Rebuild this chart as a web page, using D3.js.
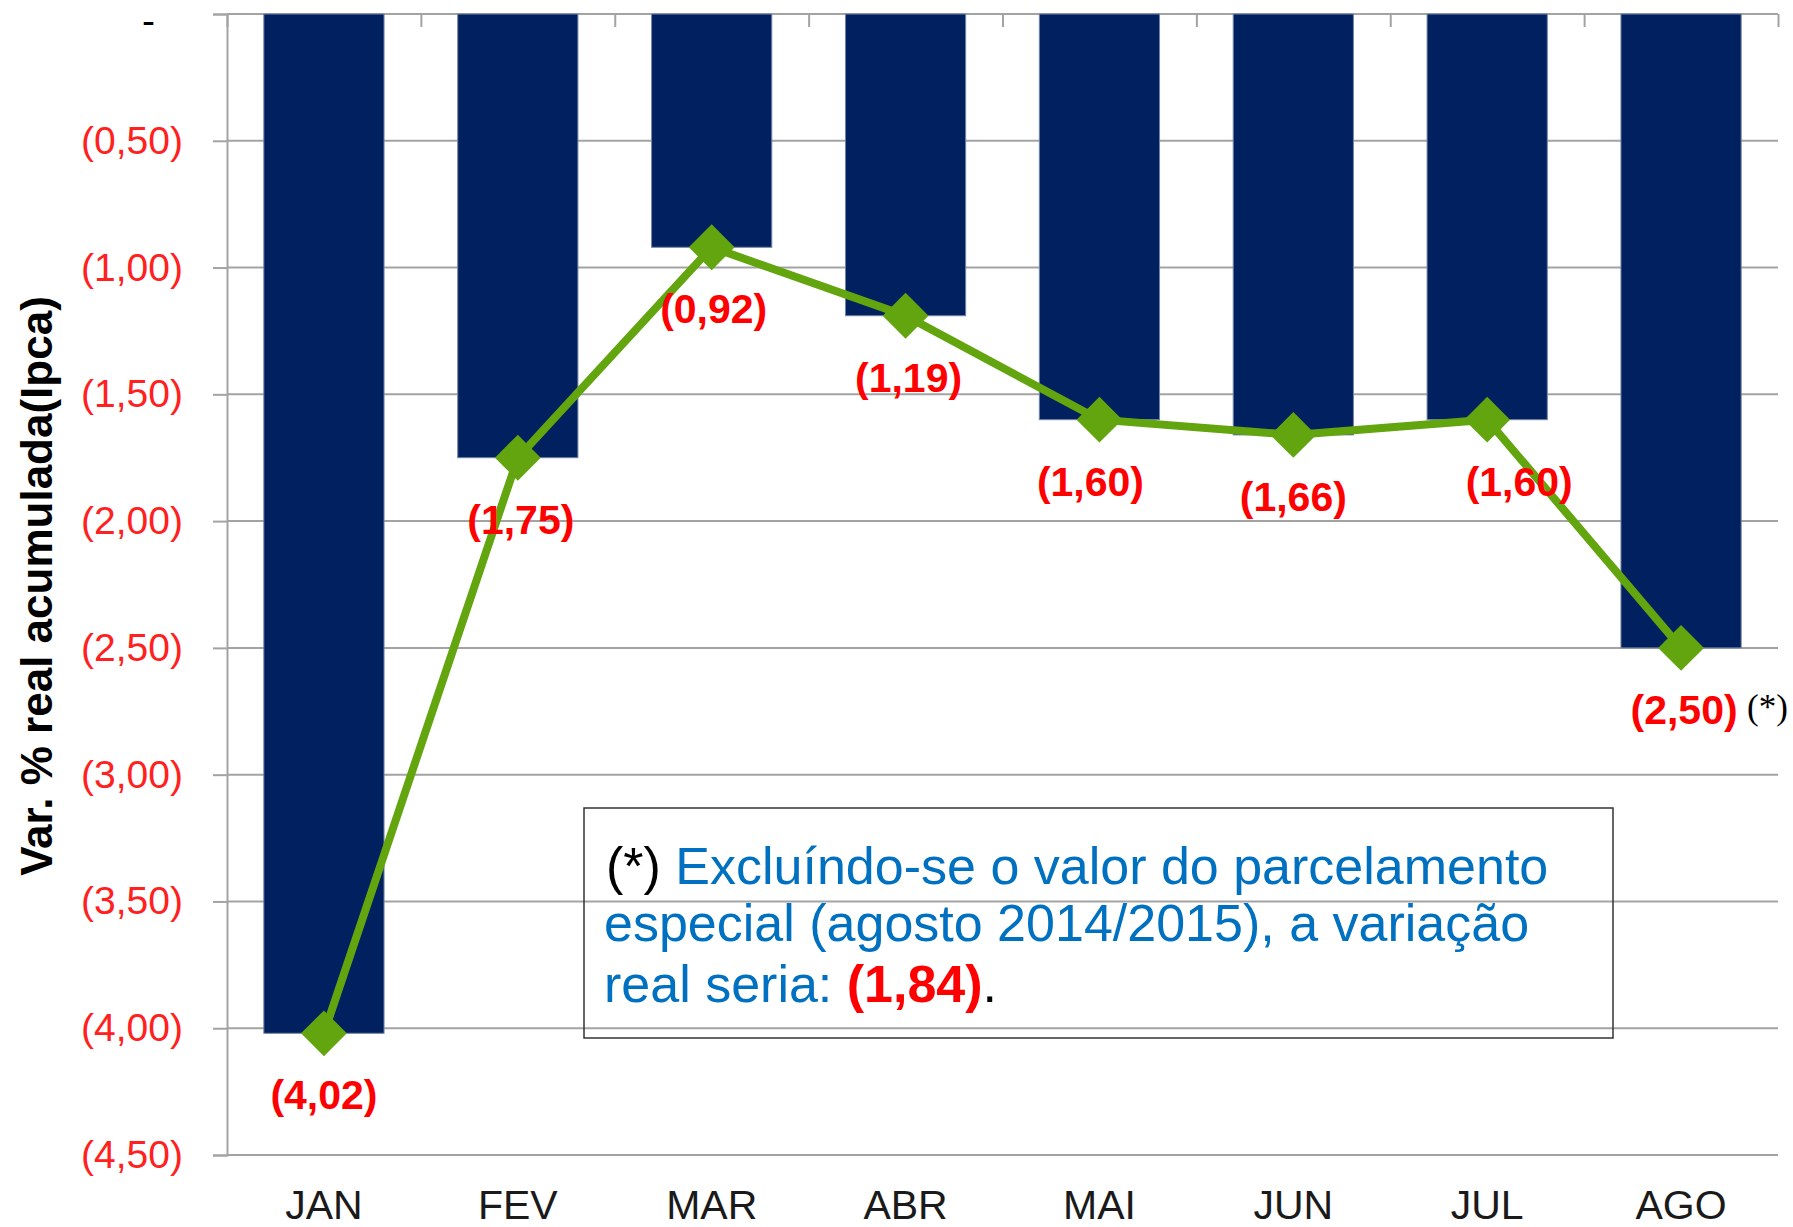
<!DOCTYPE html>
<html>
<head>
<meta charset="utf-8">
<script src="https://cdn.jsdelivr.net/npm/d3@7"></script>
<style>
  body { margin: 0; background: #fff; }
  text { font-family: "Liberation Sans", Arial, sans-serif; }
</style>
</head>
<body>
<script>
// months and accumulated real variation (shown as negative values in parentheses)
var months = ["JAN", "FEV", "MAR", "ABR", "MAI", "JUN", "JUL", "AGO"];
var values = [4.02, 1.75, 0.92, 1.19, 1.60, 1.66, 1.60, 2.50];
var yTicks = [0, 0.5, 1, 1.5, 2, 2.5, 3, 3.5, 4, 4.5];
var labelNudge = [0, 3, 2, 3, -9, 0, 32, 3];

var svgWidth = 1793;
var svgHeight = 1227;
var plotLeft = 227, plotRight = 1778, plotTop = 14, plotBottom = 1155;

var svg = d3.select("body")
  .append("svg")
  .attr("width", svgWidth)
  .attr("height", svgHeight);

var xScale = d3.scaleBand()
  .domain(months)
  .range([plotLeft, plotRight])
  .paddingInner(0.38)
  .paddingOuter(0.19);

var yScale = d3.scaleLinear()
  .domain([0, 4.5])
  .range([plotTop, plotBottom]);

function fmt(v) {
  if (v === 0) return "-";
  return "(" + d3.format(".2f")(v).replace(".", ",") + ")";
}

// gridlines
svg.append("g")
  .selectAll("line")
  .data(yTicks)
  .enter()
  .append("line")
  .attr("x1", plotLeft)
  .attr("x2", plotRight)
  .attr("y1", function(d) { return yScale(d); })
  .attr("y2", function(d) { return yScale(d); })
  .style("stroke", "#a3a3a3")
  .style("stroke-width", 2);

// y axis
var yAxis = svg.append("g")
  .attr("transform", "translate(" + plotLeft + ",0)")
  .call(d3.axisLeft(yScale).tickValues(yTicks).tickSize(14).tickPadding(30).tickFormat(fmt));
yAxis.select(".domain").style("stroke", "#a3a3a3").style("stroke-width", 2);
yAxis.selectAll(".tick line").style("stroke", "#a3a3a3").style("stroke-width", 2);
yAxis.selectAll(".tick text")
  .style("font-family", "Liberation Sans, Arial, sans-serif")
  .style("font-size", "39px")
  .style("fill", function(d) { return d === 0 ? "#000" : "#ff2020"; })
  .attr("dx", function(d) { return d === 0 ? -28 : 0; })
  .attr("dy", function(d) { return d === 0 ? "0.5em" : "0.32em"; });

// category boundary ticks on the zero line
var xEdge = d3.scaleLinear().domain([0, months.length]).range([plotLeft, plotRight]);
var xTop = svg.append("g")
  .attr("transform", "translate(0," + plotTop + ")")
  .call(d3.axisBottom(xEdge).tickValues(d3.range(months.length + 1)).tickSize(13).tickFormat(""));
xTop.select(".domain").remove();
xTop.selectAll(".tick line").style("stroke", "#a3a3a3").style("stroke-width", 2);

// bars
svg.selectAll(".bar")
  .data(values)
  .enter()
  .append("rect")
  .attr("class", "bar")
  .attr("x", function(d, i) { return xScale(months[i]); })
  .attr("y", yScale(0))
  .attr("width", xScale.bandwidth())
  .attr("height", function(d) { return yScale(d) - yScale(0); })
  .style("fill", "#002060")
  .style("stroke", "#7384a3")
  .style("stroke-width", 1);

// month labels
svg.append("g")
  .selectAll("text")
  .data(months)
  .enter()
  .append("text")
  .attr("x", function(d) { return xScale(d) + xScale.bandwidth() / 2; })
  .attr("y", 1219)
  .attr("text-anchor", "middle")
  .style("font-size", "41px")
  .style("fill", "#1a1a1a")
  .text(function(d) { return d; });

// line + diamonds
var cx = function(d, i) { return xScale(months[i]) + xScale.bandwidth() / 2; };
var line = d3.line()
  .x(cx)
  .y(function(d) { return yScale(d); });

svg.append("path")
  .datum(values)
  .attr("d", line)
  .style("fill", "none")
  .style("stroke", "#63a50f")
  .style("stroke-width", 8);

svg.selectAll(".marker")
  .data(values)
  .enter()
  .append("path")
  .attr("class", "marker")
  .attr("d", d3.symbol(d3.symbolSquare, 1050))
  .attr("transform", function(d, i) {
    return "translate(" + cx(d, i) + "," + yScale(d) + ") rotate(45)";
  })
  .style("fill", "#63a50f");

// value labels
svg.selectAll(".vlabel")
  .data(values)
  .enter()
  .append("text")
  .attr("class", "vlabel")
  .attr("x", function(d, i) { return cx(d, i) + labelNudge[i]; })
  .attr("y", function(d) { return yScale(d) + 62; })
  .attr("text-anchor", "middle")
  .attr("dominant-baseline", "central")
  .style("font-size", "41px")
  .style("font-weight", "bold")
  .style("fill", "#ff0000")
  .text(fmt);

// (*) marker next to last label
var last = values.length - 1;
svg.append("text")
  .attr("x", cx(values[last], last) + 66)
  .attr("y", yScale(values[last]) + 60)
  .attr("dominant-baseline", "central")
  .style("font-family", "Liberation Serif, Times New Roman, serif")
  .style("font-size", "35px")
  .style("fill", "#000")
  .text("(*)");

// y title
svg.append("text")
  .attr("transform", "translate(36,586) rotate(-90)")
  .attr("text-anchor", "middle")
  .attr("dominant-baseline", "central")
  .style("font-size", "44px")
  .style("font-weight", "bold")
  .style("fill", "#000")
  .text("Var. % real acumulada(Ipca)");

// note box
svg.append("rect")
  .attr("x", 584)
  .attr("y", 808)
  .attr("width", 1029)
  .attr("height", 230)
  .style("fill", "none")
  .style("stroke", "#333")
  .style("stroke-width", 1.5);

var note = svg.append("text")
  .style("font-size", "52px")
  .style("fill", "#0070c0");
var l1 = note.append("tspan").attr("x", 606).attr("y", 884);
l1.append("tspan").style("fill", "#000").text("(*) ");
l1.append("tspan").text("Excluíndo-se o valor do parcelamento");
note.append("tspan").attr("x", 604).attr("y", 941)
  .text("especial (agosto 2014/2015), a variação");
var l3 = note.append("tspan").attr("x", 604).attr("y", 1002);
l3.append("tspan").text("real seria: ");
l3.append("tspan").style("fill", "#ff0000").style("font-weight", "bold").text("(1,84)");
l3.append("tspan").style("fill", "#000").text(".");
</script>
</body>
</html>
